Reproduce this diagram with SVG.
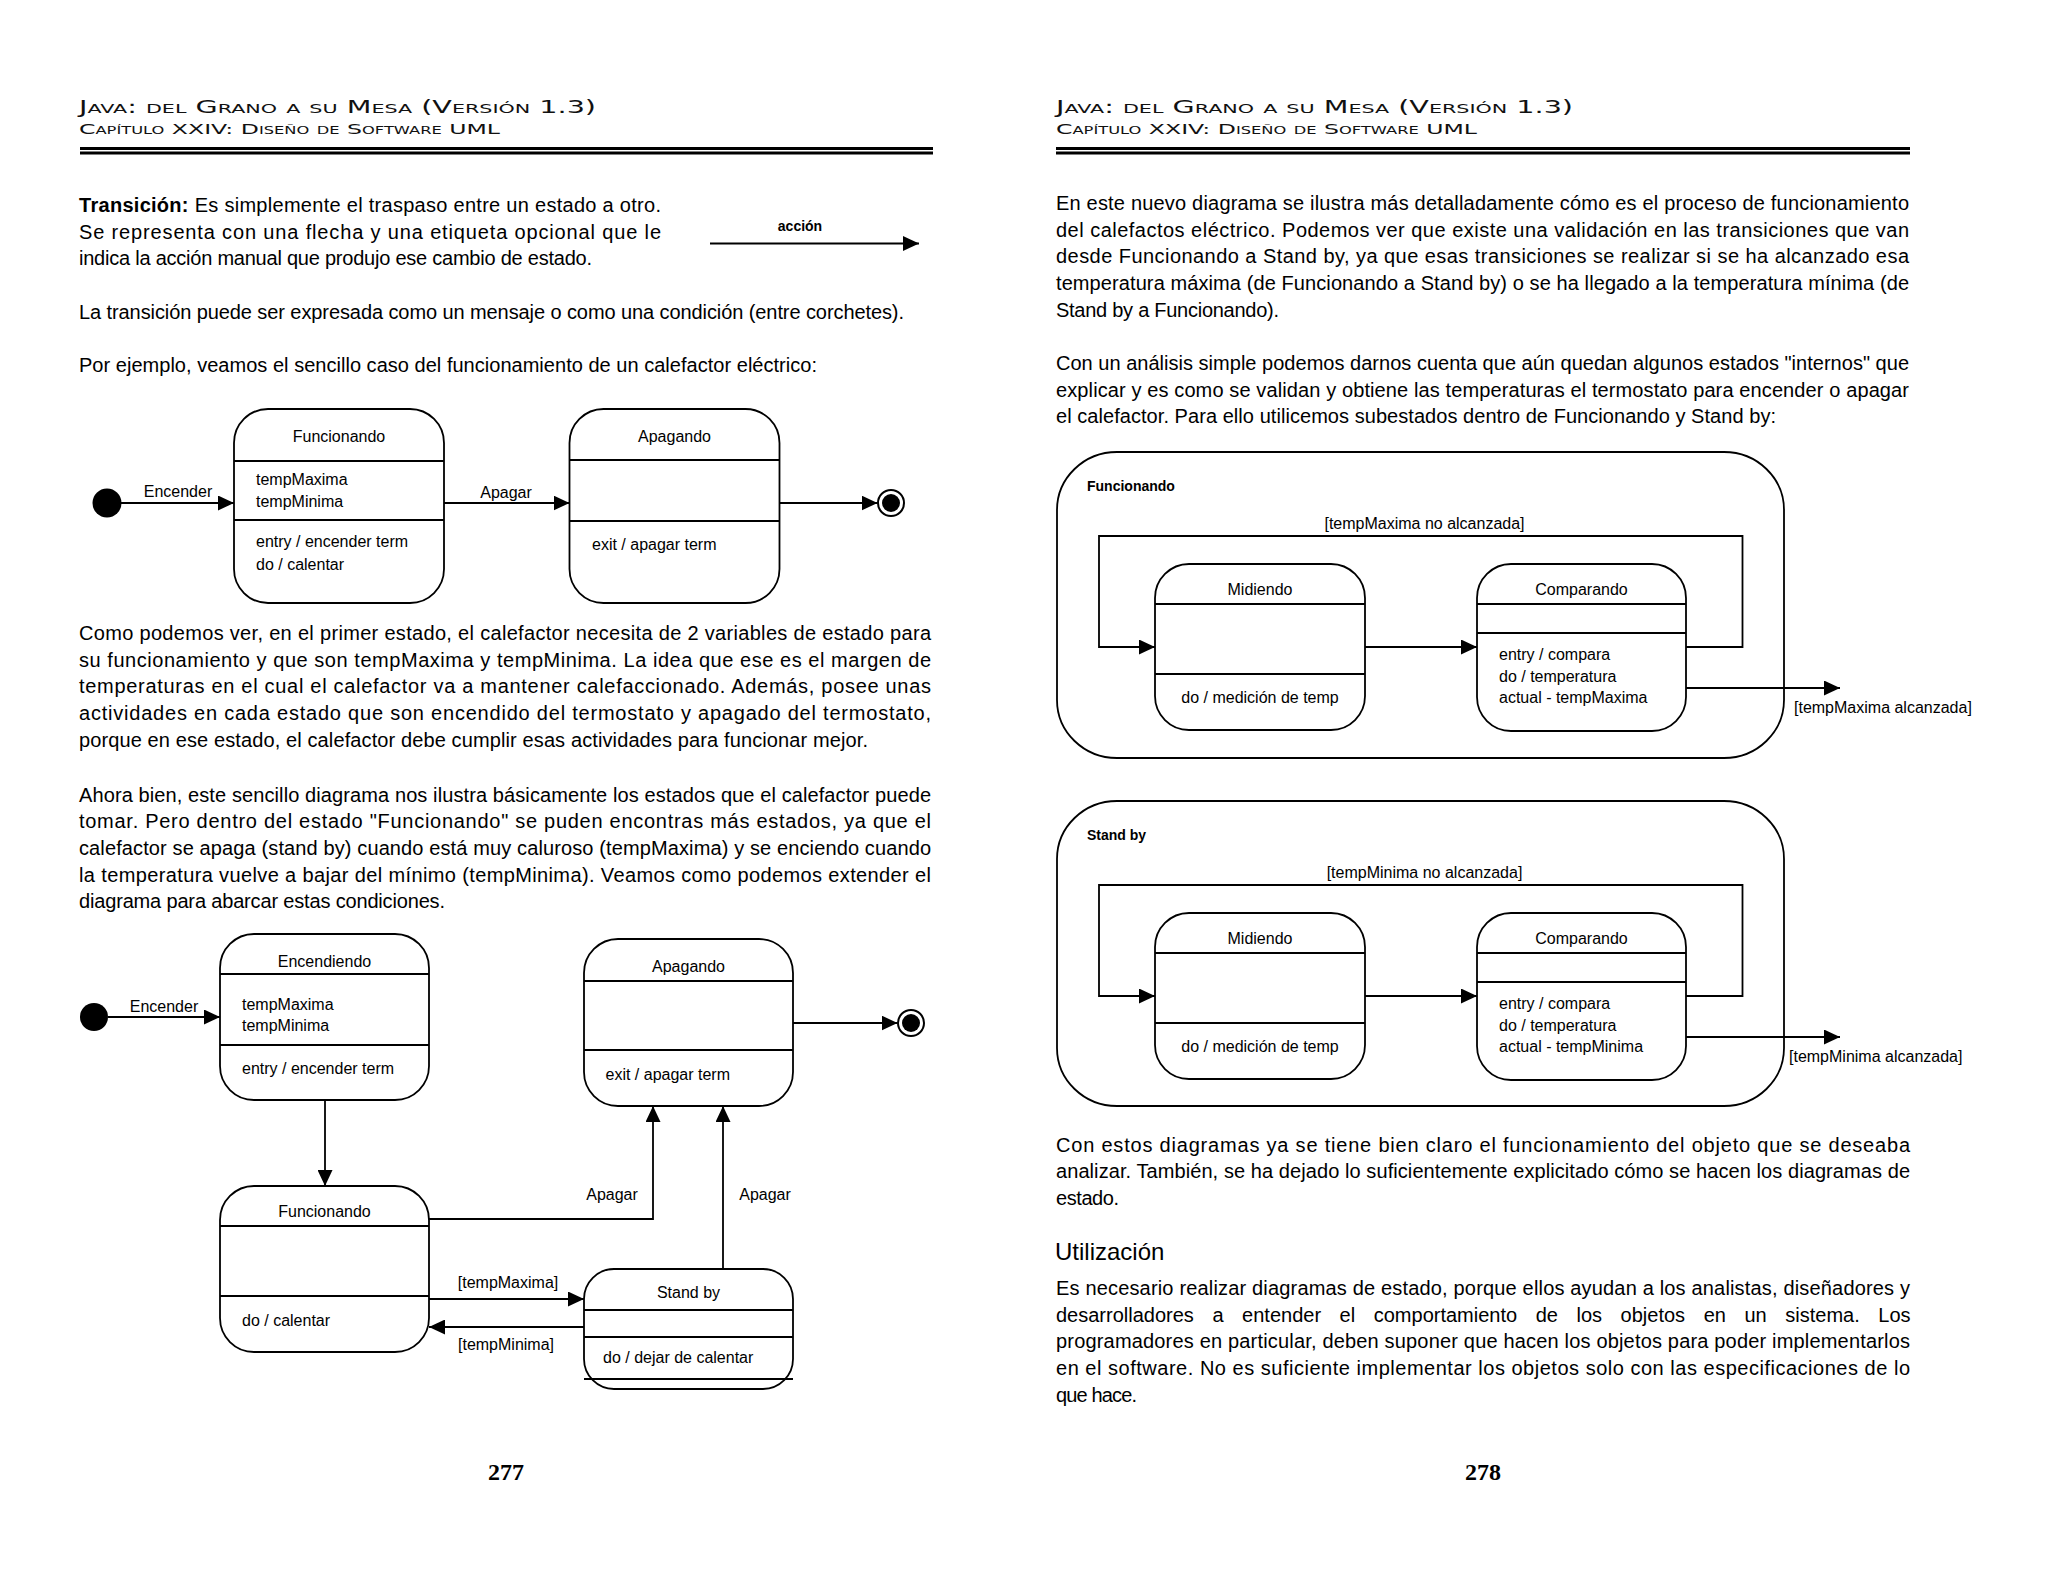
<svg xmlns="http://www.w3.org/2000/svg" width="2048" height="1582" viewBox="0 0 2048 1582">
<style>
.bg{fill:#fff}
.t{font-family:"Liberation Sans",Arial,sans-serif;font-size:20px;fill:#000}
.h1{font-family:"DejaVu Sans",sans-serif;font-size:18px;font-variant:small-caps;fill:#111}
.h2{font-family:"DejaVu Sans",sans-serif;font-size:14.5px;font-variant:small-caps;fill:#111}
.d{font-family:"Liberation Sans",Arial,sans-serif;font-size:16px;fill:#000}
.db{font-family:"Liberation Sans",Arial,sans-serif;font-size:14px;font-weight:bold;fill:#000}
.pg{font-family:"Liberation Serif","Times New Roman",serif;font-size:24px;font-weight:bold;fill:#000}
.hd{font-family:"Liberation Sans",Arial,sans-serif;font-size:24px;fill:#000}
.box{fill:#fff;stroke:#000;stroke-width:1.8}
.div{stroke:#000;stroke-width:1.8;fill:none}
.rule{stroke:#000;stroke-width:3}
.c{stroke:#000;stroke-width:1.8;fill:none}
.ca{stroke:#000;stroke-width:1.8;fill:none;marker-end:url(#arr)}
</style>
<defs>
<marker id="arr" markerUnits="userSpaceOnUse" markerWidth="16" markerHeight="15" refX="16" refY="7.5" orient="auto">
<path d="M0,0 L16,7.5 L0,15 z" fill="#000"/>
</marker>
</defs>
<rect class="bg" x="0" y="0" width="2048" height="1582"/>

<!-- Headers -->
<text class="h1" x="79" y="113" textLength="517" lengthAdjust="spacingAndGlyphs">Java: del Grano a su Mesa (Versión 1.3)</text>
<text class="h2" x="79" y="134" textLength="421" lengthAdjust="spacingAndGlyphs">Capítulo XXIV: Diseño de Software UML</text>
<line class="rule" x1="80" y1="148.5" x2="933" y2="148.5"/>
<line class="rule" x1="80" y1="153" x2="933" y2="153"/>
<text class="h1" x="1056" y="113" textLength="517" lengthAdjust="spacingAndGlyphs">Java: del Grano a su Mesa (Versión 1.3)</text>
<text class="h2" x="1056" y="134" textLength="421" lengthAdjust="spacingAndGlyphs">Capítulo XXIV: Diseño de Software UML</text>
<line class="rule" x1="1056" y1="148.5" x2="1910" y2="148.5"/>
<line class="rule" x1="1056" y1="153" x2="1910" y2="153"/>

<!-- Left page text -->
<text class="t" x="79" y="212" textLength="582" lengthAdjust="spacing"><tspan font-weight="bold">Transición:</tspan> Es simplemente el traspaso entre un estado a otro.</text>
<text class="t" x="79" y="238.5" textLength="582" lengthAdjust="spacing">Se representa con una flecha y una etiqueta opcional que le</text>
<text class="t" x="79" y="265" textLength="513" lengthAdjust="spacing">indica la acción manual que produjo ese cambio de estado.</text>
<text class="db" x="800" y="231" text-anchor="middle">acción</text>
<line class="ca" x1="710" y1="243.5" x2="919" y2="243.5"/>
<text class="t" x="79" y="318.5" textLength="825" lengthAdjust="spacing">La transición puede ser expresada como un mensaje o como una condición (entre corchetes).</text>
<text class="t" x="79" y="372" textLength="738" lengthAdjust="spacing">Por ejemplo, veamos el sencillo caso del funcionamiento de un calefactor eléctrico:</text>

<text class="t" x="79" y="640" textLength="852" lengthAdjust="spacing">Como podemos ver, en el primer estado, el calefactor necesita de 2 variables de estado para</text>
<text class="t" x="79" y="666.7" textLength="852" lengthAdjust="spacing">su funcionamiento y que son tempMaxima y tempMinima. La idea que ese es el margen de</text>
<text class="t" x="79" y="693.3" textLength="852" lengthAdjust="spacing">temperaturas en el cual el calefactor va a mantener calefaccionado. Además, posee unas</text>
<text class="t" x="79" y="720" textLength="852" lengthAdjust="spacing">actividades en cada estado que son encendido del termostato y apagado del termostato,</text>
<text class="t" x="79" y="746.7" textLength="789" lengthAdjust="spacing">porque en ese estado, el calefactor debe cumplir esas actividades para funcionar mejor.</text>

<text class="t" x="79" y="801.7" textLength="852" lengthAdjust="spacing">Ahora bien, este sencillo diagrama nos ilustra básicamente los estados que el calefactor puede</text>
<text class="t" x="79" y="828.3" textLength="852" lengthAdjust="spacing">tomar. Pero dentro del estado "Funcionando" se puden encontras más estados, ya que el</text>
<text class="t" x="79" y="855" textLength="852" lengthAdjust="spacing">calefactor se apaga (stand by) cuando está muy caluroso (tempMaxima) y se enciendo cuando</text>
<text class="t" x="79" y="881.7" textLength="852" lengthAdjust="spacing">la temperatura vuelve a bajar del mínimo (tempMinima). Veamos como podemos extender el</text>
<text class="t" x="79" y="908.3" textLength="366" lengthAdjust="spacing">diagrama para abarcar estas condiciones.</text>

<text class="pg" x="506" y="1480" text-anchor="middle">277</text>

<!-- Right page text -->
<text class="t" x="1056" y="210" textLength="853" lengthAdjust="spacing">En este nuevo diagrama se ilustra más detalladamente cómo es el proceso de funcionamiento</text>
<text class="t" x="1056" y="236.7" textLength="853" lengthAdjust="spacing">del calefactos eléctrico. Podemos ver que existe una validación en las transiciones que van</text>
<text class="t" x="1056" y="263.3" textLength="853" lengthAdjust="spacing">desde Funcionando a Stand by, ya que esas transiciones se realizar si se ha alcanzado esa</text>
<text class="t" x="1056" y="290" textLength="853" lengthAdjust="spacing">temperatura máxima (de Funcionando a Stand by) o se ha llegado a la temperatura mínima (de</text>
<text class="t" x="1056" y="316.7" textLength="223" lengthAdjust="spacing">Stand by a Funcionando).</text>
<text class="t" x="1056" y="370" textLength="853" lengthAdjust="spacing">Con un análisis simple podemos darnos cuenta que aún quedan algunos estados "internos" que</text>
<text class="t" x="1056" y="396.7" textLength="853" lengthAdjust="spacing">explicar y es como se validan y obtiene las temperaturas el termostato para encender o apagar</text>
<text class="t" x="1056" y="423.3" textLength="720" lengthAdjust="spacing">el calefactor. Para ello utilicemos subestados dentro de Funcionando y Stand by:</text>

<text class="t" x="1056" y="1151.7" textLength="854" lengthAdjust="spacing">Con estos diagramas ya se tiene bien claro el funcionamiento del objeto que se deseaba</text>
<text class="t" x="1056" y="1178.3" textLength="854" lengthAdjust="spacing">analizar. También, se ha dejado lo suficientemente explicitado cómo se hacen los diagramas de</text>
<text class="t" x="1056" y="1205" textLength="63" lengthAdjust="spacing">estado.</text>
<text class="hd" x="1055" y="1260">Utilización</text>
<text class="t" x="1056" y="1295" textLength="854" lengthAdjust="spacing">Es necesario realizar diagramas de estado, porque ellos ayudan a los analistas, diseñadores y</text>
<text class="t" x="1056" y="1321.7" word-spacing="13" style="word-spacing:13px">desarrolladores a entender el comportamiento de los objetos en un sistema. Los</text>
<text class="t" x="1056" y="1348.3" textLength="854" lengthAdjust="spacing">programadores en particular, deben suponer que hacen los objetos para poder implementarlos</text>
<text class="t" x="1056" y="1375" textLength="854" lengthAdjust="spacing">en el software. No es suficiente implementar los objetos solo con las especificaciones de lo</text>
<text class="t" x="1056" y="1401.7" textLength="81" lengthAdjust="spacing">que hace.</text>

<text class="pg" x="1483" y="1480" text-anchor="middle">278</text>

<!-- Right diagram containers (drawn first) -->
<g id="sup-funcionando">
<rect class="box" x="1057" y="452" width="727" height="306" rx="60" ry="58"/>
<text class="db" x="1087" y="491">Funcionando</text>
</g>
<g id="sup-standby">
<rect class="box" x="1057" y="801" width="727" height="305" rx="60" ry="58"/>
<text class="db" x="1087" y="840">Stand by</text>
</g>

<!-- Connectors -->
<g id="connectors">
<!-- diagram 1 -->
<line class="ca" x1="121" y1="503" x2="234" y2="503"/>
<text class="d" x="178" y="497" text-anchor="middle">Encender</text>
<line class="ca" x1="444" y1="503" x2="569.5" y2="503"/>
<text class="d" x="506" y="498" text-anchor="middle">Apagar</text>
<line class="ca" x1="779.5" y1="503" x2="877.5" y2="503"/>
<!-- diagram 2 -->
<line class="ca" x1="108" y1="1017" x2="220" y2="1017"/>
<text class="d" x="164" y="1012" text-anchor="middle">Encender</text>
<line class="ca" x1="325" y1="1100" x2="325" y2="1186"/>
<line class="ca" x1="793" y1="1023" x2="897.5" y2="1023"/>
<path class="ca" d="M429,1219 H653 V1106"/>
<text class="d" x="612" y="1200" text-anchor="middle">Apagar</text>
<path class="ca" d="M723,1269 V1106"/>
<text class="d" x="765" y="1200" text-anchor="middle">Apagar</text>
<line class="ca" x1="429" y1="1299" x2="584" y2="1299"/>
<text class="d" x="508" y="1288" text-anchor="middle">[tempMaxima]</text>
<line class="ca" x1="584" y1="1327" x2="429" y2="1327"/>
<text class="d" x="506" y="1350" text-anchor="middle">[tempMinima]</text>
<!-- right top -->
<path class="ca" d="M1686,647 H1742.5 V536 H1099 V647 H1155"/>
<text class="d" x="1424.5" y="529" text-anchor="middle">[tempMaxima no alcanzada]</text>
<line class="ca" x1="1365" y1="647" x2="1477" y2="647"/>
<line class="ca" x1="1686" y1="688" x2="1840" y2="688"/>
<text class="d" x="1794" y="713">[tempMaxima alcanzada]</text>
<!-- right bottom -->
<path class="ca" d="M1686,996 H1742.5 V885 H1099 V996 H1155"/>
<text class="d" x="1424.5" y="878" text-anchor="middle">[tempMinima no alcanzada]</text>
<line class="ca" x1="1365" y1="996" x2="1477" y2="996"/>
<line class="ca" x1="1686" y1="1037" x2="1840" y2="1037"/>
<text class="d" x="1789" y="1062">[tempMinima alcanzada]</text>
</g>

<!-- Diagram 1 nodes -->
<g id="d1-initial"><circle cx="107" cy="503" r="14.5" fill="#000"/></g>
<g id="d1-funcionando">
<rect class="box" x="234" y="409" width="210" height="194" rx="34"/>
<line class="div" x1="234" y1="461" x2="444" y2="461"/>
<line class="div" x1="234" y1="520" x2="444" y2="520"/>
<text class="d" x="339" y="442" text-anchor="middle">Funcionando</text>
<text class="d" x="256" y="485">tempMaxima</text>
<text class="d" x="256" y="507">tempMinima</text>
<text class="d" x="256" y="547">entry / encender term</text>
<text class="d" x="256" y="570">do / calentar</text>
</g>
<g id="d1-apagando">
<rect class="box" x="569.5" y="409" width="210" height="194" rx="34"/>
<line class="div" x1="569.5" y1="460" x2="779.5" y2="460"/>
<line class="div" x1="569.5" y1="521" x2="779.5" y2="521"/>
<text class="d" x="674.5" y="442" text-anchor="middle">Apagando</text>
<text class="d" x="592" y="550">exit / apagar term</text>
</g>
<g id="d1-final">
<circle cx="891" cy="503" r="13" fill="#fff" stroke="#000" stroke-width="2"/>
<circle cx="891" cy="503" r="9" fill="#000"/>
</g>

<!-- Diagram 2 nodes -->
<g id="d2-initial"><circle cx="94" cy="1017" r="14" fill="#000"/></g>
<g id="d2-encendiendo">
<rect class="box" x="220" y="934" width="209" height="166" rx="34"/>
<line class="div" x1="220" y1="974" x2="429" y2="974"/>
<line class="div" x1="220" y1="1045" x2="429" y2="1045"/>
<text class="d" x="324.5" y="967" text-anchor="middle">Encendiendo</text>
<text class="d" x="242" y="1010">tempMaxima</text>
<text class="d" x="242" y="1031">tempMinima</text>
<text class="d" x="242" y="1074">entry / encender term</text>
</g>
<g id="d2-funcionando">
<rect class="box" x="220" y="1186" width="209" height="166" rx="34"/>
<line class="div" x1="220" y1="1226" x2="429" y2="1226"/>
<line class="div" x1="220" y1="1296" x2="429" y2="1296"/>
<text class="d" x="324.5" y="1217" text-anchor="middle">Funcionando</text>
<text class="d" x="242" y="1326">do / calentar</text>
</g>
<g id="d2-apagando">
<rect class="box" x="584" y="939" width="209" height="167" rx="34"/>
<line class="div" x1="584" y1="981" x2="793" y2="981"/>
<line class="div" x1="584" y1="1050" x2="793" y2="1050"/>
<text class="d" x="688.5" y="972" text-anchor="middle">Apagando</text>
<text class="d" x="605.5" y="1080">exit / apagar term</text>
</g>
<g id="d2-standby">
<rect class="box" x="584" y="1269" width="209" height="120" rx="30"/>
<line class="div" x1="584" y1="1310" x2="793" y2="1310"/>
<line class="div" x1="584" y1="1337" x2="793" y2="1337"/>
<line class="div" x1="584" y1="1379" x2="793" y2="1379"/>
<text class="d" x="688.5" y="1298" text-anchor="middle">Stand by</text>
<text class="d" x="603" y="1363">do / dejar de calentar</text>
</g>
<g id="d2-final">
<circle cx="911" cy="1023" r="13" fill="#fff" stroke="#000" stroke-width="2"/>
<circle cx="911" cy="1023" r="9" fill="#000"/>
</g>

<!-- Right top sub-states -->
<g id="r1-midiendo">
<rect class="box" x="1155" y="564" width="210" height="166" rx="34"/>
<line class="div" x1="1155" y1="604" x2="1365" y2="604"/>
<line class="div" x1="1155" y1="674" x2="1365" y2="674"/>
<text class="d" x="1260" y="595" text-anchor="middle">Midiendo</text>
<text class="d" x="1260" y="703" text-anchor="middle">do / medición de temp</text>
</g>
<g id="r1-comparando">
<rect class="box" x="1477" y="564" width="209" height="167" rx="34"/>
<line class="div" x1="1477" y1="604" x2="1686" y2="604"/>
<line class="div" x1="1477" y1="633" x2="1686" y2="633"/>
<text class="d" x="1581.5" y="595" text-anchor="middle">Comparando</text>
<text class="d" x="1499" y="660">entry / compara</text>
<text class="d" x="1499" y="682">do / temperatura</text>
<text class="d" x="1499" y="703">actual - tempMaxima</text>
</g>
<!-- Right bottom sub-states -->
<g id="r2-midiendo">
<rect class="box" x="1155" y="913" width="210" height="166" rx="34"/>
<line class="div" x1="1155" y1="953" x2="1365" y2="953"/>
<line class="div" x1="1155" y1="1023" x2="1365" y2="1023"/>
<text class="d" x="1260" y="944" text-anchor="middle">Midiendo</text>
<text class="d" x="1260" y="1052" text-anchor="middle">do / medición de temp</text>
</g>
<g id="r2-comparando">
<rect class="box" x="1477" y="913" width="209" height="167" rx="34"/>
<line class="div" x1="1477" y1="953" x2="1686" y2="953"/>
<line class="div" x1="1477" y1="982" x2="1686" y2="982"/>
<text class="d" x="1581.5" y="944" text-anchor="middle">Comparando</text>
<text class="d" x="1499" y="1009">entry / compara</text>
<text class="d" x="1499" y="1031">do / temperatura</text>
<text class="d" x="1499" y="1052">actual - tempMinima</text>
</g>
</svg>
